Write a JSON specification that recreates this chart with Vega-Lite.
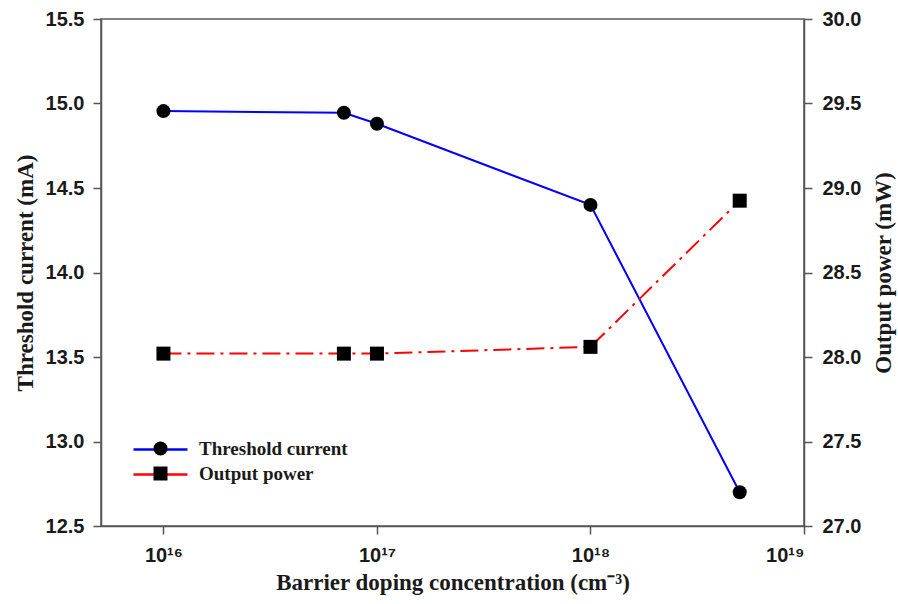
{
  "$schema": "https://vega.github.io/schema/vega-lite/v6.json",
  "autosize": {"type": "none"},
  "padding": {"left": 101, "top": 19, "right": 94, "bottom": 78},
  "width": 703,
  "height": 507,
  "background": "white",
  "config": {
    "view": {"stroke": "#555", "strokeWidth": 1.5},
    "axis": {
      "grid": false,
      "domainColor": "#555",
      "domainWidth": 1.5,
      "tickColor": "#555",
      "tickWidth": 1.5,
      "tickSize": 8,
      "labelFont": "Liberation Sans",
      "labelFontWeight": "bold",
      "labelFontSize": 20,
      "labelColor": "#1a1a1a",
      "titleFont": "Liberation Serif",
      "titleFontWeight": "bold",
      "titleFontSize": 23,
      "titleColor": "#1a1a1a"
    },
    "legend": {
      "labelFont": "Liberation Serif",
      "labelFontWeight": "bold",
      "labelFontSize": 19,
      "labelColor": "#1a1a1a",
      "padding": 0
    }
  },
  "data": {
    "values": [
      {"conc": 1e16, "threshold": 14.955, "power": 28.02},
      {"conc": 7e16, "threshold": 14.945, "power": 28.02},
      {"conc": 1e17, "threshold": 14.88, "power": 28.02},
      {"conc": 1e18, "threshold": 14.40, "power": 28.06},
      {"conc": 5e18, "threshold": 12.70, "power": 28.925}
    ]
  },
  "encoding": {
    "x": {
      "field": "conc",
      "type": "quantitative",
      "scale": {"type": "log", "domain": [5.1e15, 1e19], "nice": false},
      "axis": {
        "values": [1e16, 1e17, 1e18, 1e19],
        "labelExpr": "datum.value < 5e16 ? '10\u00b9\u2076' : datum.value < 5e17 ? '10\u00b9\u2077' : datum.value < 5e18 ? '10\u00b9\u2078' : '10\u00b9\u2079'",
        "labelPadding": 11,
        "title": "Barrier doping concentration (cm\u207b\u00b3)",
        "titlePadding": 6
      }
    }
  },
  "layer": [
    {
      "encoding": {
        "y": {
          "field": "threshold",
          "type": "quantitative",
          "scale": {"domain": [12.5, 15.5], "nice": false, "zero": false},
          "axis": {
            "orient": "left",
            "values": [12.5, 13.0, 13.5, 14.0, 14.5, 15.0, 15.5],
            "format": ".1f",
            "labelPadding": 9,
            "title": "Threshold current (mA)",
            "titlePadding": 8
          }
        }
      },
      "layer": [
        {
          "mark": {"type": "line", "strokeWidth": 2},
          "encoding": {
            "color": {
              "datum": "Threshold current",
              "type": "nominal",
              "scale": {"domain": ["Output power", "Threshold current"], "range": ["#ff0000", "#0000ff"]},
              "legend": {
                "orient": "none",
                "legendX": 49,
                "legendY": 420,
                "title": null,
                "values": ["Threshold current", "Output power"],
                "symbolType": "M-3,0H3",
                "symbolSize": 324,
                "symbolStrokeWidth": 2.5,
                "labelExpr": "''",
                "labelOpacity": 0,
                "rowPadding": 4
              }
            }
          }
        },
        {
          "mark": {"type": "point", "filled": true, "color": "black", "opacity": 1, "size": 196},
          "encoding": {
            "shape": {
              "datum": "Threshold current",
              "type": "nominal",
              "scale": {"domain": ["Threshold current", "Output power"], "range": ["circle", "square"]},
              "legend": {
                "orient": "none",
                "legendX": 50,
                "legendY": 420,
                "title": null,
                "symbolSize": 196,
                "symbolFillColor": "black",
                "symbolStrokeColor": "black",
                "symbolOpacity": 1,
                "labelOffset": 29,
                "rowPadding": 4
              }
            }
          }
        }
      ]
    },
    {
      "encoding": {
        "y": {
          "field": "power",
          "type": "quantitative",
          "scale": {"domain": [27, 30], "nice": false, "zero": false},
          "axis": {
            "orient": "right",
            "values": [27.0, 27.5, 28.0, 28.5, 29.0, 29.5, 30.0],
            "format": ".1f",
            "labelPadding": 10,
            "title": "Output power (mW)",
            "titleAngle": 270,
            "titleBaseline": "top",
            "titlePadding": 12
          }
        }
      },
      "layer": [
        {
          "mark": {"type": "line", "strokeWidth": 2, "strokeDash": [18, 6, 3, 6]},
          "encoding": {
            "color": {"datum": "Output power", "type": "nominal"}
          }
        },
        {
          "mark": {"type": "point", "filled": true, "color": "black", "opacity": 1, "size": 196},
          "encoding": {
            "shape": {"datum": "Output power", "type": "nominal"}
          }
        }
      ]
    }
  ],
  "resolve": {"scale": {"y": "independent"}}
}
